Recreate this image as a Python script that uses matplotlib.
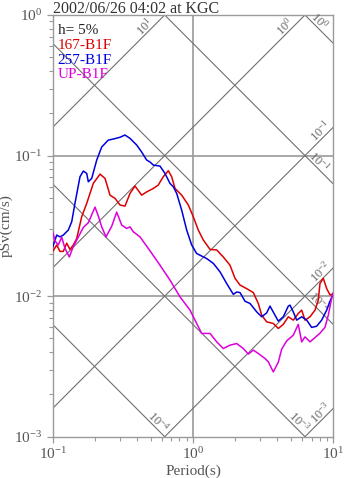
import numpy as np
import matplotlib.pyplot as plt
from matplotlib.ticker import LogLocator, LogFormatterMathtext, NullFormatter

plt.rcParams['font.family'] = ['Liberation Serif', 'DejaVu Serif']
plt.rcParams['font.size'] = 11

# pseudo velocity response spectra, h = 5%
period_257 = [0.1, 0.1068, 0.1127, 0.119, 0.1291, 0.1366, 0.1442, 0.1565, 0.1652, 0.1747,
              0.1794, 0.1897, 0.2059, 0.2234, 0.2491, 0.2704, 0.3018, 0.3275, 0.3556, 0.397,
              0.4305, 0.4677, 0.4938, 0.5214, 0.5817, 0.631, 0.6855, 0.7238, 0.7651, 0.8305,
              0.9016, 0.9788, 1.062, 1.252, 1.396, 1.557, 1.738, 1.938, 2.048, 2.163,
              2.348, 2.549, 2.844, 3.088, 3.352, 3.538, 3.842, 4.055, 4.402, 4.778,
              4.913, 5.187, 5.483, 5.953, 6.462, 7.015, 7.615, 8.264, 8.974, 9.474, 10.0]
psv_257 = [0.0224, 0.0272, 0.0264, 0.0272, 0.0295, 0.0338, 0.0459, 0.0707, 0.0776, 0.0747,
           0.0651, 0.0688, 0.0929, 0.115, 0.1289, 0.1311, 0.135, 0.14, 0.1325, 0.1188,
           0.106, 0.0929, 0.090, 0.0856, 0.0842, 0.0747, 0.0634, 0.060, 0.0538, 0.0409,
           0.0295, 0.0231, 0.0201, 0.0185, 0.0171, 0.0149, 0.0123, 0.0103, 0.0107, 0.0106,
           0.0092, 0.00887, 0.00773, 0.00713, 0.0076, 0.00849, 0.00732, 0.00664, 0.00713, 0.00849,
           0.00863, 0.00773, 0.00675, 0.00713, 0.00675, 0.00599, 0.00611, 0.00675, 0.00795, 0.0092, 0.0104]

period_167 = [0.1, 0.1068, 0.1127, 0.119, 0.1258, 0.1328, 0.1402, 0.1483, 0.1609, 0.1747,
              0.1947, 0.2174, 0.236, 0.2561, 0.278, 0.3018, 0.3275, 0.3556, 0.3861, 0.4305,
              0.4677, 0.5214, 0.5656, 0.6138, 0.6668, 0.7047, 0.7442, 0.8305, 0.9257, 1.005,
              1.091, 1.184, 1.322, 1.476, 1.644, 1.835, 1.992, 2.163, 2.414, 2.691,
              2.92, 3.088, 3.352, 3.736, 4.055, 4.402, 4.778, 5.187, 5.629, 5.953,
              6.285, 6.823, 7.406, 7.816, 8.037, 8.485, 8.974, 9.474, 10.0]
psv_167 = [0.0208, 0.0231, 0.0208, 0.0208, 0.0238, 0.0215, 0.0231, 0.0257, 0.0367, 0.0457,
           0.0634, 0.0738, 0.0688, 0.0523, 0.0496, 0.0445, 0.0437, 0.0538, 0.0607, 0.0523,
           0.0552, 0.0584, 0.0617, 0.0707, 0.078, 0.0707, 0.0584, 0.0523, 0.0445, 0.0367,
           0.0295, 0.0251, 0.0215, 0.0213, 0.019, 0.0166, 0.0134, 0.012, 0.0113, 0.0106,
           0.00887, 0.00732, 0.00656, 0.00639, 0.00589, 0.0063, 0.00713, 0.00675, 0.00753, 0.00795,
           0.00675, 0.00713, 0.00795, 0.00936, 0.0123, 0.0134, 0.0113, 0.0102, 0.0104]

period_up = [0.1, 0.1038, 0.1096, 0.1159, 0.1224, 0.1313, 0.1402, 0.1522, 0.1652, 0.1794,
             0.2002, 0.2113, 0.2234, 0.2399, 0.2633, 0.2858, 0.3103, 0.3369, 0.3556, 0.3754,
             0.4191, 0.4938, 0.5817, 0.6855, 0.8077, 0.9519, 1.062, 1.153, 1.322, 1.476,
             1.644, 1.835, 2.048, 2.284, 2.479, 2.691, 2.92, 3.261, 3.441, 3.736,
             4.055, 4.288, 4.654, 5.187, 5.629, 5.953, 6.285, 6.823, 7.406, 8.037,
             8.724, 9.211, 9.741, 10.0]
psv_up = [0.0287, 0.0247, 0.0231, 0.0263, 0.0218, 0.019, 0.0225, 0.0263, 0.0308, 0.0333,
          0.043, 0.0372, 0.0311, 0.0264, 0.0314, 0.0396, 0.032, 0.0303, 0.0311, 0.0287,
          0.0264, 0.021, 0.0166, 0.013, 0.00989, 0.00795, 0.00639, 0.00543, 0.00543, 0.00473,
          0.00424, 0.00448, 0.0046, 0.00424, 0.00387, 0.00413, 0.00391, 0.0036, 0.00341, 0.00289,
          0.00339, 0.0042, 0.0048, 0.00528, 0.0063, 0.00473, 0.00513, 0.00473, 0.00507, 0.00545,
          0.006, 0.00732, 0.00968, 0.0106]

series_names = ['167-B1F', '257-B1F', 'UP-B1F']
series_colors = ['#dd0000', '#0000dd', '#dd00dd']

# tripartite guide lines: acceleration (gal) and displacement (cm)
acc_levels = [1e1, 1e0, 1e-1, 1e-2, 1e-3]
disp_levels = [1e0, 1e-1, 1e-2, 1e-3, 1e-4]

tmin, tmax = 0.1, 10.0
vmin, vmax = 1e-3, 1.0

fig = plt.figure(figsize=(3.47, 4.78), dpi=100)
ax = fig.add_axes([0.1519, 0.0864, 0.8086, 0.8822])
ax.set_xscale('log')
ax.set_yscale('log')
ax.set_xlim(tmin, tmax)
ax.set_ylim(vmin, vmax)

grid_col = '#9a9a9a'
diag_col = '#707070'
text_col = '#555555'

ax.axvline(1.0, color=grid_col, lw=1.2, zorder=1)
for v in [1e-1, 1e-2]:
    ax.axhline(v, color=grid_col, lw=1.2, zorder=1)

t = np.logspace(-1, 1, 200)
px = 1.0 / 140.4  # one pixel in decades
r2 = np.sqrt(2.0)


def level_label(val):
    return r'$\mathdefault{10^{%d}}$' % int(round(np.log10(val)))


for a in acc_levels:
    ax.plot(t, a * t / (2 * np.pi), color=diag_col, lw=0.8, zorder=2)
    # end of the line at the top or right edge
    t_end = min(tmax, 2 * np.pi * vmax / a)
    v_end = a * t_end / (2 * np.pi)
    along = 22 if t_end < tmax else 12
    lx = np.log10(t_end) - along * px / r2 - 6 * px / r2
    ly = np.log10(v_end) - along * px / r2 + 6 * px / r2
    ax.text(10 ** lx, 10 ** ly, level_label(a), rotation=45, rotation_mode='anchor',
            ha='center', va='center', fontsize=9, color='#666666', zorder=3)

for d in disp_levels:
    ax.plot(t, 2 * np.pi * d / t, color=diag_col, lw=0.8, zorder=2)
    # end of the line at the right or bottom edge
    t_end = min(tmax, 2 * np.pi * d / vmin)
    v_end = 2 * np.pi * d / t_end
    along = 26 if t_end >= tmax else 15
    lx = np.log10(t_end) - along * px / r2 + 6 * px / r2
    ly = np.log10(v_end) + along * px / r2 + 6 * px / r2
    ax.text(10 ** lx, 10 ** ly, level_label(d), rotation=-45, rotation_mode='anchor',
            ha='center', va='center', fontsize=9, color='#666666', zorder=3)

curves = [(period_167, psv_167), (period_257, psv_257), (period_up, psv_up)]
for (p, s), c in zip(curves, series_colors):
    ax.plot(p, s, color=c, lw=1.1, zorder=4)

# legend as coloured text
ax.text(0.018, 0.963, 'h= 5%', transform=ax.transAxes, color='#222222', va='center')
for i, (name, c) in enumerate(zip(series_names, series_colors)):
    ax.text(0.018, 0.963 - 0.035 * (i + 1), name, transform=ax.transAxes, color=c, va='center')

ax.xaxis.set_major_locator(LogLocator(base=10))
ax.yaxis.set_major_locator(LogLocator(base=10))
ax.xaxis.set_major_formatter(LogFormatterMathtext())
ax.yaxis.set_major_formatter(LogFormatterMathtext())
ax.xaxis.set_minor_locator(LogLocator(base=10, subs=np.arange(2, 10)))
ax.yaxis.set_minor_locator(LogLocator(base=10, subs=np.arange(2, 10)))
ax.xaxis.set_minor_formatter(NullFormatter())
ax.yaxis.set_minor_formatter(NullFormatter())
ax.tick_params(which='major', direction='out', length=4.5, width=0.9, color=grid_col,
               labelcolor=text_col, labelsize=11, pad=3)
ax.tick_params(axis='x', which='major', pad=2)
ax.tick_params(which='minor', direction='out', length=2.6, width=0.8, color=grid_col)

for sp in ax.spines.values():
    sp.set_color(grid_col)
    sp.set_linewidth(1.0)

ax.set_xlabel('Period(s)', color=text_col)
ax.set_ylabel('pSv(cm/s)', color=text_col)
ax.xaxis.set_label_coords(0.5, -0.066)
ax.yaxis.set_label_coords(-0.143, 0.5)
fig.text(0.153, 0.982, '2002/06/26 04:02 at KGC', ha='left', va='center', color='#333333',
         fontsize=11.5)

fig.savefig('out.png', dpi=100)
